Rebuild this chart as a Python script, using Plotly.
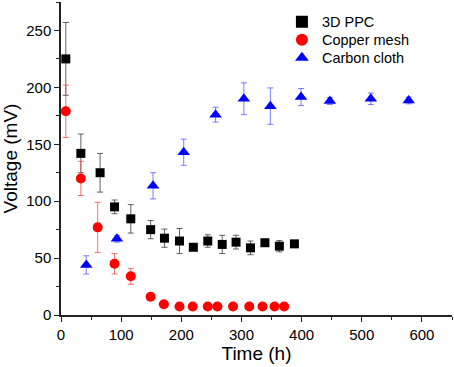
import plotly.graph_objects as go

ppc_x = [8, 33, 65, 89, 116, 149, 172, 197, 220, 244, 268, 291, 315, 339, 363, 388]
ppc_y = [225, 142, 125, 95, 84.5, 75, 67.5, 65, 59.5, 65, 62, 64, 59, 63.5, 60.5, 62.5]
ppc_e = [32, 17, 17, 6, 12.5, 8, 8, 11, 2, 5.5, 8, 6, 6, 1.5, 5, 1.5]

cu_x = [8, 33, 61, 89, 116, 149, 171, 197, 219, 244, 260, 286, 313, 335, 355, 371]
cu_y = [179, 120, 77, 45, 34, 16, 9.5, 7.5, 7.5, 7.5, 7.5, 7.5, 7.5, 7.5, 7.5, 7.5]
cu_e = [23, 15, 22, 9, 7, 1, 2, 0.5, 0.5, 0.5, 0.5, 0.5, 0.5, 0.5, 0.5, 0.5]

cc_x = [42, 93, 153, 204, 257, 304, 348, 399, 447, 515, 578]
cc_y = [44, 67, 113.5, 143, 176, 190, 183.5, 191.5, 188, 190, 188.5]
cc_e = [8, 3, 11.5, 11.5, 6.5, 14, 16, 7.5, 3, 5, 3]

x_ticks = [0, 100, 200, 300, 400, 500, 600]
y_ticks = [0, 50, 100, 150, 200, 250]

FONT = "Liberation Sans, Arial, sans-serif"

fig = go.Figure()
series = [
    ("3D PPC", ppc_x, ppc_y, ppc_e, "square", "#000000", "rgba(60,60,60,0.8)", 9, "legend"),
    ("Copper mesh", cu_x, cu_y, cu_e, "circle", "#FF0000", "rgba(240,80,80,0.8)", 10, "legend2"),
    ("Carbon cloth", cc_x, cc_y, cc_e, "triangle-up", "#0000FF", "rgba(90,90,255,0.8)", 11, "legend3"),
]
for name, x, y, e, sym, col, ecol, sz, lg in series:
    fig.add_trace(go.Scatter(
        x=x, y=y, name=name, mode="markers", legend=lg, showlegend=True,
        marker=dict(symbol=sym, color=col, size=sz, line=dict(width=0)),
        error_y=dict(type="data", array=e, visible=True, color=ecol, thickness=1, width=3),
    ))

axis_common = dict(
    showline=True, linecolor="#222", linewidth=1.5, mirror=False,
    ticks="outside", ticklen=5, tickwidth=1.2, tickcolor="#222",
    showgrid=False, zeroline=False,
    tickfont=dict(family=FONT, size=15, color="black"),
)
fig.update_xaxes(
    range=[0, 650], tickvals=x_ticks,
    minor=dict(ticks="outside", ticklen=3, dtick=50, tick0=0, tickcolor="#222"),
    title=dict(text="Time (h)", font=dict(family=FONT, size=19, color="black"), standoff=4),
    **axis_common,
)
fig.update_yaxes(
    range=[0, 275], tickvals=y_ticks,
    minor=dict(ticks="outside", ticklen=3, dtick=25, tick0=0, tickcolor="#222"),
    title=dict(text="Voltage (mV)", font=dict(family=FONT, size=19, color="black"), standoff=6),
    **axis_common,
)
leg = dict(x=0.565, xanchor="left", yanchor="middle",
           font=dict(family=FONT, size=14.5, color="black"),
           bgcolor="rgba(0,0,0,0)", itemsizing="constant")
fig.update_layout(
    width=454, height=367,
    margin=dict(l=61, r=2, t=2, b=52),
    plot_bgcolor="white", paper_bgcolor="white",
    font=dict(family=FONT, color="black"),
    showlegend=True,
    legend=dict(y=0.937, **leg),
    legend2=dict(y=0.879, **leg),
    legend3=dict(y=0.822, **leg),
)
fig.write_html("out.html", config={"displayModeBar": False},
               post_script="document.body.style.margin='0';document.body.style.overflow='hidden';")
